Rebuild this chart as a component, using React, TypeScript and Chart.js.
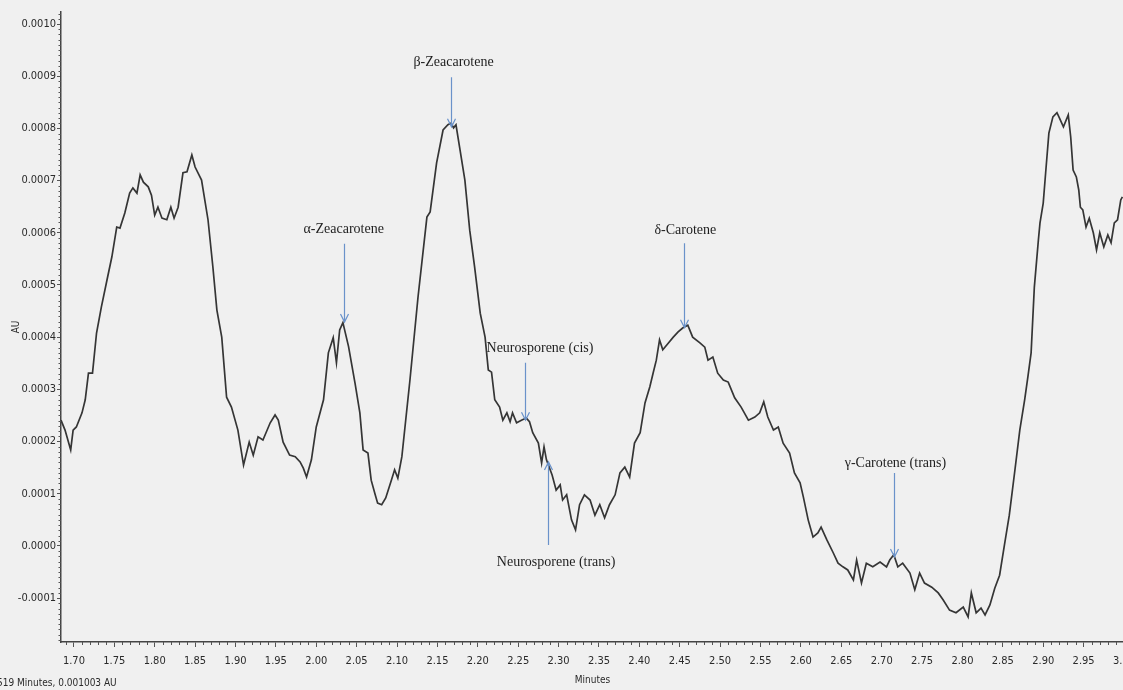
import React, { useEffect, useRef } from "react";
import { Chart, registerables } from "chart.js";

Chart.register(...registerables);

// Retention time (minutes) of each sample point
const retentionMin = [
  1.684, 1.689, 1.696, 1.699, 1.703, 1.71, 1.714, 1.718, 1.723, 1.728, 1.734, 1.741, 1.747, 1.753, 1.757,
  1.763, 1.769, 1.773, 1.778, 1.782, 1.786, 1.792, 1.796, 1.8, 1.804, 1.809, 1.815, 1.82, 1.824, 1.829,
  1.835, 1.84, 1.846, 1.85, 1.858, 1.866, 1.872, 1.877, 1.883, 1.889, 1.895, 1.903, 1.91, 1.917, 1.922,
  1.928, 1.934, 1.943, 1.949, 1.953, 1.959, 1.967, 1.974, 1.98, 1.984, 1.988, 1.994, 2.0, 2.009, 2.015,
  2.021, 2.025, 2.029, 2.033, 2.04, 2.048, 2.054, 2.058, 2.064, 2.068, 2.073, 2.076, 2.081, 2.086, 2.093,
  2.097, 2.101, 2.106, 2.116, 2.126, 2.137, 2.141, 2.149, 2.157, 2.163, 2.167, 2.17, 2.173, 2.178, 2.184,
  2.19, 2.196, 2.203, 2.209, 2.213, 2.217, 2.221, 2.227, 2.231, 2.236, 2.24, 2.243, 2.248, 2.254, 2.26,
  2.264, 2.268, 2.275, 2.279, 2.282, 2.285, 2.292, 2.297, 2.302, 2.305, 2.31, 2.316, 2.321, 2.326, 2.332,
  2.339, 2.345, 2.351, 2.357, 2.363, 2.37, 2.376, 2.382, 2.388, 2.394, 2.401, 2.407, 2.413, 2.417, 2.421,
  2.425, 2.429, 2.436, 2.442, 2.448, 2.454, 2.46, 2.466, 2.475, 2.481, 2.485, 2.491, 2.497, 2.504, 2.51,
  2.518, 2.526, 2.535, 2.543, 2.549, 2.554, 2.559, 2.566, 2.572, 2.578, 2.586, 2.592, 2.599, 2.603, 2.609,
  2.615, 2.621, 2.625, 2.632, 2.64, 2.646, 2.652, 2.658, 2.665, 2.669, 2.675, 2.681, 2.689, 2.698, 2.706,
  2.71, 2.715, 2.72, 2.726, 2.735, 2.741, 2.747, 2.753, 2.762, 2.77, 2.776, 2.784, 2.792, 2.801, 2.807,
  2.811, 2.817, 2.823, 2.828, 2.834, 2.84, 2.846, 2.852, 2.858, 2.865, 2.871, 2.877, 2.881, 2.885, 2.889,
  2.894, 2.896, 2.9, 2.903, 2.907, 2.912, 2.917, 2.92, 2.925, 2.931, 2.934, 2.937, 2.941, 2.944, 2.946,
  2.949, 2.953, 2.957, 2.962, 2.966, 2.97, 2.975, 2.98, 2.984, 2.988, 2.992, 2.996, 2.998,
];

// Detector absorbance (AU) at each retention time
const absorbanceAU = [
  0.000241, 0.000222, 0.000184, 0.000222, 0.000228, 0.000255, 0.00028, 0.000331, 0.000331, 0.000408,
  0.000458, 0.00051, 0.000554, 0.000611, 0.000609, 0.000638, 0.000676, 0.000686, 0.000676, 0.000711,
  0.000697, 0.000688, 0.000672, 0.000634, 0.000649, 0.000628, 0.000625, 0.000649, 0.000628, 0.000649,
  0.000715, 0.000717, 0.000749, 0.000726, 0.000701, 0.000625, 0.000535, 0.000452, 0.0004, 0.000285,
  0.000266, 0.000222, 0.000155, 0.000199, 0.000174, 0.000209, 0.000203, 0.000236, 0.000251, 0.000241,
  0.000199, 0.000174, 0.000171, 0.000161, 0.000149, 0.000132, 0.000165, 0.000228, 0.00028, 0.00037,
  0.000399, 0.000351, 0.000414, 0.000428, 0.000382, 0.000312, 0.000255, 0.000184, 0.000178, 0.000126,
  0.000098, 0.000082, 0.000079, 0.000092, 0.000126, 0.000146, 0.00013, 0.000171, 0.000318, 0.000477,
  0.00063, 0.00064, 0.000734, 0.000797, 0.000807, 0.00081, 0.000801, 0.000807, 0.000759, 0.000701,
  0.000605, 0.000535, 0.000446, 0.0004, 0.000337, 0.000333, 0.00028, 0.000266, 0.000241, 0.000255,
  0.000238, 0.000255, 0.000236, 0.000241, 0.000245, 0.000238, 0.000217, 0.000197, 0.000159, 0.00019,
  0.000165, 0.000136, 0.000107, 0.000117, 0.000088, 0.000098, 0.00005, 0.000031, 0.000079, 0.000098,
  0.000088, 0.000059, 0.000079, 0.000054, 0.000079, 0.000098, 0.00014, 0.000151, 0.000132, 0.000197,
  0.000217, 0.000274, 0.000305, 0.000331, 0.000356, 0.000395, 0.000376, 0.000389, 0.0004, 0.00041,
  0.000418, 0.000423, 0.0004, 0.000389, 0.000381, 0.000356, 0.000362, 0.000331, 0.000318, 0.000314,
  0.000284, 0.000266, 0.000241, 0.000247, 0.000255, 0.000276, 0.000247, 0.000222, 0.000228, 0.000197,
  0.000178, 0.00014, 0.000121, 0.000094, 0.00005, 0.000017, 0.000025, 0.000036, 0.000012, -0.000013,
  -0.000033, -0.00004, -0.000046, -0.000065, -0.000027, -0.000071, -0.000033, -0.00004, -0.000031, -0.00004,
  -0.000027, -0.000017, -0.00004, -0.000033, -0.000052, -0.000084, -0.000052, -0.000071, -0.000079, -0.00009,
  -0.000103, -0.000123, -0.000128, -0.000117, -0.000136, -0.00009, -0.000128, -0.000119, -0.000132, -0.000113,
  -0.000081, -0.000056, 0.000002, 0.000059, 0.000146, 0.000222, 0.00028, 0.000324, 0.00037, 0.000496,
  0.000586, 0.000619, 0.000657, 0.000715, 0.000791, 0.000822, 0.00083, 0.00082, 0.000803, 0.000826,
  0.000784, 0.00072, 0.000707, 0.000682, 0.000649, 0.000644, 0.000611, 0.000628, 0.0006, 0.000567,
  0.0006, 0.000573, 0.000596, 0.000581, 0.000619, 0.000625, 0.000663, 0.000669,
];

// Axis tick values
const xTickValues = [
  1.7, 1.75, 1.8, 1.85, 1.9, 1.95, 2.0, 2.05, 2.1, 2.15, 2.2, 2.25, 2.3, 2.35, 2.4, 2.45, 2.5, 2.55, 2.6,
  2.65, 2.7, 2.75, 2.8, 2.85, 2.9, 2.95, 3.0,
];
const yTickValues = [
  -0.0001, 0, 0.0001, 0.0002, 0.0003, 0.0004, 0.0005, 0.0006, 0.0007, 0.0008, 0.0009, 0.001,
];

// Peak identifications: arrow position (min), arrow tip / tail (AU), label anchor
const peakNames = [
  "α-Zeacarotene",
  "β-Zeacarotene",
  "Neurosporene (cis)",
  "Neurosporene (trans)",
  "δ-Carotene",
  "γ-Carotene (trans)",
];
const arrowTimes = [2.034, 2.167, 2.258, 2.287, 2.455, 2.715];
const arrowTips = [0.000429, 0.000803, 0.000241, 0.000161, 0.000418, -0.000021];
const arrowTails = [0.000579, 0.000898, 0.000351, 0.000002, 0.00058, 0.00014];
const labelTimes = [2.034, 2.17, 2.277, 2.297, 2.457, 2.717];
const labelLevels = [0.000607, 0.000927, 0.000379, -0.000031, 0.000605, 0.000159];

const cursorReadout = "519 Minutes, 0.001003 AU";

const AXIS_FONT = "'Liberation Sans Narrow', 'DejaVu Sans Condensed', Arial, sans-serif";
const LABEL_FONT = "'Liberation Serif', 'Times New Roman', serif";

// Small unlabelled ticks between the major ones
const minorTicksPlugin = {
  id: "minorTicks",
  afterDraw(chart: any) {
    const { ctx, chartArea, scales } = chart;
    const x = scales.x;
    const y = scales.y;
    ctx.save();
    ctx.strokeStyle = "#555";
    ctx.lineWidth = 1;
    ctx.beginPath();
    for (let i = Math.ceil(x.min * 100); i <= Math.floor(x.max * 100); i++) {
      if (i % 5 === 0) continue;
      const px = Math.round(x.getPixelForValue(i / 100)) + 0.5;
      ctx.moveTo(px, chartArea.bottom);
      ctx.lineTo(px, chartArea.bottom + 3);
    }
    for (let i = Math.ceil(y.min * 1e5); i <= Math.floor(y.max * 1e5); i++) {
      if (i % 10 === 0) continue;
      const py = Math.round(y.getPixelForValue(i / 1e5)) + 0.5;
      ctx.moveTo(chartArea.left - 2.5, py);
      ctx.lineTo(chartArea.left, py);
    }
    ctx.stroke();
    ctx.restore();
  },
};

// Peak labels with arrows pointing at the trace
const peakLabelsPlugin = {
  id: "peakLabels",
  afterDatasetsDraw(chart: any) {
    const { ctx, scales } = chart;
    const x = scales.x;
    const y = scales.y;
    ctx.save();
    for (let i = 0; i < peakNames.length; i++) {
      const ax = Math.round(x.getPixelForValue(arrowTimes[i])) + 0.5;
      const tipY = y.getPixelForValue(arrowTips[i]);
      const tailY = y.getPixelForValue(arrowTails[i]);
      ctx.strokeStyle = "#6a92ca";
      ctx.lineWidth = 1.2;
      ctx.beginPath();
      ctx.moveTo(ax, tailY);
      ctx.lineTo(ax, tipY);
      const dir = tipY > tailY ? -1 : 1;
      ctx.moveTo(ax - 4, tipY + dir * 8);
      ctx.lineTo(ax, tipY);
      ctx.lineTo(ax + 4, tipY + dir * 8);
      ctx.stroke();

      ctx.fillStyle = "#1e1e1e";
      ctx.font = `14px ${LABEL_FONT}`;
      ctx.textAlign = "center";
      ctx.textBaseline = "middle";
      ctx.fillText(peakNames[i], x.getPixelForValue(labelTimes[i]), y.getPixelForValue(labelLevels[i]));
    }
    ctx.restore();
  },
  afterDraw(chart: any) {
    const { ctx } = chart;
    ctx.save();
    ctx.fillStyle = "#2a2a2a";
    ctx.font = `10px ${AXIS_FONT}`;
    ctx.textAlign = "left";
    ctx.textBaseline = "middle";
    ctx.fillText(cursorReadout, -3, 683);
    ctx.restore();
  },
};

export default function App() {
  const canvasRef = useRef<HTMLCanvasElement | null>(null);

  useEffect(() => {
    if (!canvasRef.current) return;
    const points = retentionMin.map((t, i) => ({ x: t, y: absorbanceAU[i] }));
    const chart = new Chart(canvasRef.current, {
      type: "line",
      data: {
        datasets: [
          {
            data: points,
            borderColor: "#353535",
            borderWidth: 1.7,
            pointRadius: 0,
            tension: 0,
            fill: false,
          },
        ],
      },
      options: {
        animation: false,
        responsive: false,
        devicePixelRatio: 1,
        layout: { padding: { left: 0, top: 12, right: 26, bottom: 0 } },
        plugins: {
          legend: { display: false },
          tooltip: { enabled: false },
        },
        scales: {
          x: {
            type: "linear",
            min: 1.684,
            max: 3.0,
            afterBuildTicks: (scale: any) => {
              scale.ticks = xTickValues.map((v) => ({ value: v }));
            },
            afterFit: (scale: any) => {
              scale.height = 48;
            },
            ticks: {
              autoSkip: false,
              maxRotation: 0,
              padding: 8,
              color: "#2a2a2a",
              font: { family: AXIS_FONT, size: 11 },
              callback: (v: any) => Number(v).toFixed(2),
            },
            grid: {
              drawOnChartArea: false,
              drawTicks: true,
              tickLength: 5,
              color: "#555",
            },
            border: { display: true, color: "#444", width: 1.5 },
            title: {
              display: true,
              text: "Minutes",
              color: "#2a2a2a",
              font: { family: AXIS_FONT, size: 10 },
              padding: { top: 0, bottom: 4 },
            },
          },
          y: {
            type: "linear",
            min: -0.000184,
            max: 0.001023,
            afterBuildTicks: (scale: any) => {
              scale.ticks = yTickValues.map((v) => ({ value: v }));
            },
            afterFit: (scale: any) => {
              scale.width = 61;
            },
            ticks: {
              autoSkip: false,
              padding: 1,
              color: "#2a2a2a",
              font: { family: AXIS_FONT, size: 11 },
              callback: (v: any) => Number(v).toFixed(4),
            },
            grid: {
              drawOnChartArea: false,
              drawTicks: true,
              tickLength: 4,
              color: "#555",
            },
            border: { display: true, color: "#444", width: 1.5 },
            title: {
              display: true,
              text: "AU",
              color: "#2a2a2a",
              font: { family: AXIS_FONT, size: 10 },
              padding: { top: 10, bottom: 0 },
            },
          },
        },
      },
      plugins: [minorTicksPlugin, peakLabelsPlugin],
    });
    return () => chart.destroy();
  }, []);

  return (
    <div
      style={{
        position: "fixed",
        left: 0,
        top: 0,
        width: 1123,
        height: 690,
        overflow: "hidden",
        background: "#f0f0f0",
      }}
    >
      <canvas ref={canvasRef} width={1150} height={690} style={{ display: "block" }} />
    </div>
  );
}
